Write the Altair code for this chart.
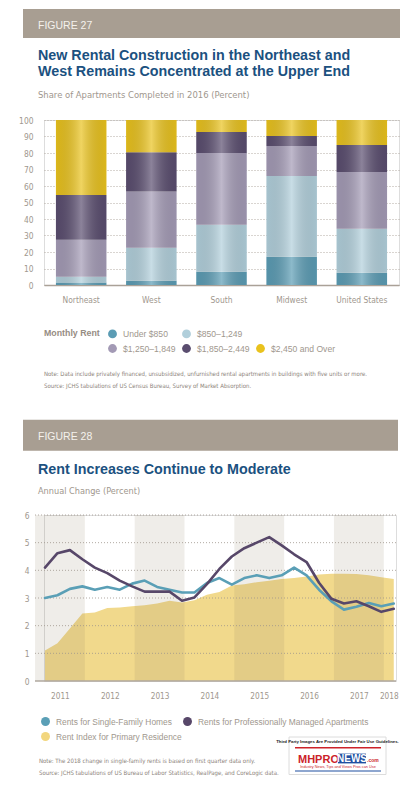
import altair as alt
import pandas as pd

# ---------------- Figure 27 data ----------------
regions = ["Northeast", "West", "South", "Midwest", "United States"]
rent_bands = ["Under $850", "$850–1,249", "$1,250–1,849", "$1,850–2,449", "$2,450 and Over"]
under_850 = [1.5, 2.6, 8.1, 17.1, 7.5]
r850_1249 = [3.5, 20.0, 28.4, 49.0, 26.6]
r1250_1849 = [22.5, 34.1, 43.5, 18.2, 34.4]
r1850_2449 = [27.0, 23.7, 12.7, 6.0, 16.4]
r2450_over = [45.5, 19.6, 7.3, 9.7, 15.1]
band_colors = ["#5b9cb4", "#b1cfdb", "#a39ab5", "#5a4d6f", "#e9c21d"]
pct_ticks = list(range(0, 101, 10))

# ---------------- Figure 28 data ----------------
quarters = [f"{y}Q{q}" for y in range(2011, 2018) for q in range(1, 5)] + ["2018Q1"]
sf_homes = [3.0, 3.1, 3.33, 3.42, 3.3, 3.4, 3.3, 3.52, 3.63, 3.4, 3.3, 3.2, 3.2, 3.54,
            3.72, 3.48, 3.72, 3.82, 3.72, 3.82, 4.1, 3.82, 3.3, 2.88, 2.58, 2.68, 2.82, 2.7, 2.8]
apartments = [4.1, 4.62, 4.73, 4.4, 4.1, 3.9, 3.63, 3.42, 3.23, 3.23, 3.23, 2.9, 3.02, 3.5,
              4.05, 4.5, 4.8, 5.0, 5.2, 4.9, 4.58, 4.3, 3.55, 2.97, 2.8, 2.88, 2.7, 2.5, 2.61]
cpi_rent = [1.1, 1.36, 1.9, 2.44, 2.48, 2.64, 2.66, 2.7, 2.74, 2.8, 2.9, 2.84, 2.92, 3.12,
            3.22, 3.45, 3.5, 3.57, 3.62, 3.69, 3.72, 3.78, 3.85, 3.88, 3.88, 3.87, 3.82, 3.75, 3.69]
series_names = ["Rents for Single-Family Homes", "Rents for Professionally Managed Apartments",
                "Rent Index for Primary Residence"]
series_colors = ["#5a9fb6", "#574769", "#f2d67e"]
year_labels = [2011, 2012, 2013, 2014, 2015, 2016, 2017, 2018]
shaded_years = [2011, 2013, 2015, 2017]
change_ticks = [0, 1, 2, 3, 4, 5, 6]

# ---------------- styling ----------------
NARROW = "DejaVu Sans Condensed, DejaVu Sans, sans-serif"
LEG = "Liberation Sans, Arial, sans-serif"
BOLD = "Liberation Sans, Arial, sans-serif"
TAUPE = "#a89e92"
BLUE = "#1b5180"
GRAY_TXT = "#a0978e"
NOTE_TXT = "#8c837a"
AREA = "#f1d98c"


def text_layer(s, x, y, size, color, font, weight="normal", align="left", baseline="alphabetic"):
    return alt.Chart(pd.DataFrame({"label": [s]})).mark_text(
        align=align, baseline=baseline, font=font, fontSize=size, fontWeight=weight, color=color
    ).encode(x=alt.value(x), y=alt.value(y), text="label:N")


def rect_layer(x1, x2, y1, y2, fill, stroke=None, opacity=1.0):
    kw = dict(fill=fill, opacity=opacity)
    if stroke:
        kw.update(stroke=stroke, strokeWidth=1)
    return alt.Chart(pd.DataFrame({"k": [0]})).mark_rect(**kw).encode(
        x=alt.value(x1), x2=alt.value(x2), y=alt.value(y1), y2=alt.value(y2))


# ================= Figure 27 =================
W1, H1 = 355, 165
rows = []
for i, r in enumerate(regions):
    for j, vals in enumerate([under_850, r850_1249, r1250_1849, r1850_2449, r2450_over]):
        rows.append({"region": r, "band": rent_bands[j], "value": vals[i], "order": j})
bars_df = pd.DataFrame(rows)

legend_domain = rent_bands[:2] + [" "] + rent_bands[2:]
legend_range = band_colors[:2] + ["rgba(0,0,0,0)"] + band_colors[2:]

x_axis1 = alt.Axis(title=None, labelAngle=0, labelFont=NARROW, labelFontSize=8.4,
                   labelColor=GRAY_TXT, labelPadding=10, ticks=False, grid=False,
                   domainColor="#aaa197", domainWidth=1.5)
y_axis1 = alt.Axis(title=None, values=pct_ticks, labelFont=NARROW, labelFontSize=8.4,
                   labelColor=GRAY_TXT, labelPadding=11, ticks=False, domain=False,
                   grid=True, gridColor="#b3aba2", gridDash=[1, 2], gridWidth=1)
x_scale1 = alt.Scale(paddingInner=0.28, paddingOuter=0.17)
y_scale1 = alt.Scale(domain=[0, 100], nice=False)

bars = alt.Chart(bars_df).mark_bar().encode(
    x=alt.X("region:N", sort=regions, scale=x_scale1, axis=x_axis1),
    y=alt.Y("value:Q", stack="zero", scale=y_scale1, axis=y_axis1),
    color=alt.Color("band:N", scale=alt.Scale(domain=legend_domain, range=legend_range),
                    legend=alt.Legend(orient="none", legendX=0, legendY=209, columns=3,
                                      direction="horizontal",
                                      title="Monthly Rent", titleOrient="left",
                                      titleAnchor="start", titleBaseline="top",
                                      titleFont=LEG, titleFontSize=8.8, titleFontWeight="bold",
                                      titleColor="#968c83", titlePadding=8,
                                      symbolType="circle", symbolSize=78, symbolStrokeWidth=0,
                                      labelFont=LEG, labelFontSize=8.6, labelColor=GRAY_TXT,
                                      labelOffset=6, columnPadding=6, rowPadding=5,
                                      labelLimit=0, padding=0)),
    order=alt.Order("order:Q"),
)

GRAD = {"gradient": "linear", "x1": 0, "x2": 1, "y1": 0, "y2": 0,
        "stops": [{"offset": 0, "color": "rgba(0,0,0,0.06)"},
                  {"offset": 0.5, "color": "rgba(255,255,255,0.3)"},
                  {"offset": 1, "color": "rgba(0,0,0,0.06)"}]}
highlight = alt.Chart(bars_df).mark_bar(fill=GRAD).encode(
    x=alt.X("region:N", sort=regions, scale=x_scale1, axis=x_axis1),
    y=alt.Y("sum(value):Q", scale=y_scale1, axis=y_axis1),
)

fig27 = alt.layer(
    rect_layer(-35, 356, -111, 291, "white", opacity=0),
    rect_layer(-21, 356, -111, -82, TAUPE),
    text_layer("FIGURE 27", -6, -91.3, 10.5, "#f4f1ec", BOLD),
    text_layer("New Rental Construction in the Northeast and", -6, -59.7, 14.3, BLUE, BOLD, "bold"),
    text_layer("West Remains Concentrated at the Upper End", -6, -44, 14.3, BLUE, BOLD, "bold"),
    text_layer("Share of Apartments Completed in 2016 (Percent)", -6, -22.3, 9.4, GRAY_TXT, NARROW),
    bars,
    highlight,
    text_layer("Note: Data include privately financed, unsubsidized, unfurnished rental apartments in buildings with five units or more.",
               0, 256, 6.0, NOTE_TXT, NARROW),
    text_layer("Source: JCHS tabulations of  US Census Bureau, Survey of Market Absorption.",
               0, 267.5, 6.0, NOTE_TXT, NARROW),
).properties(width=W1, height=H1)

# ================= Figure 28 =================
# plot area shares its left edge with figure 27 (concat aligns plot origins);
# the x domain starts a little after 2011 so that 2011 falls 9px left of that edge.
W2, H2 = 352, 166
GL = -9  # left end of the gridlines / baseline, relative to the plot origin
t_vals = [int(q[:4]) + 0.2 + 0.25 * (int(q[-1]) - 1) for q in quarters]
lines_df = pd.DataFrame({
    "t": t_vals * 2,
    "value": sf_homes + apartments,
    "series": [series_names[0]] * len(t_vals) + [series_names[1]] * len(t_vals),
})
area_df = pd.DataFrame({"t": t_vals, "cpi": cpi_rent})
bands_df = pd.DataFrame({"year": shaded_years})
grid_df = pd.DataFrame({"v": change_ticks[1:]})
base_df = pd.DataFrame({"v": change_ticks[:1]})
tick_pos = [y + 0.5 if y < 2018 else 2018.1 for y in year_labels]

x_scale2 = alt.Scale(domain=[2011.18, 2018.245], nice=False, zero=False)
y_scale2 = alt.Scale(domain=[0, 6], nice=False)
x_axis2 = alt.Axis(title=None, values=tick_pos, labelExpr="floor(datum.value)", labelFont=NARROW,
                   labelFontSize=8.2, labelColor=GRAY_TXT, labelPadding=11, ticks=False, grid=False,
                   domain=False, zindex=1)
y_axis2 = alt.Axis(title=None, values=change_ticks, labelFont=NARROW, labelFontSize=8.4,
                   labelColor=GRAY_TXT, labelPadding=15, ticks=False, domain=False, grid=False,
                   zindex=1)

area = alt.Chart(area_df).mark_area(color=AREA, opacity=1).encode(
    x=alt.X("t:Q", scale=x_scale2, axis=x_axis2),
    y=alt.Y("cpi:Q", scale=y_scale2, axis=y_axis2),
)
bands = alt.Chart(bands_df).transform_calculate(year_end="datum.year + 1").mark_rect(
    color="#8c7c64", opacity=0.14).encode(
    x=alt.X("year:Q", scale=x_scale2, axis=x_axis2),
    x2="year_end:Q",
    y=alt.value(0), y2=alt.value(H2),
)
gridlines = alt.Chart(grid_df).mark_rule(color="#9d958c", strokeDash=[1, 2], strokeWidth=1,
                                         opacity=0.8).encode(
    y=alt.Y("v:Q", scale=y_scale2, axis=y_axis2),
    x=alt.value(GL), x2=alt.value(W2),
)
baseline = alt.Chart(base_df).mark_rule(color="#b0a89f", strokeWidth=1.5).encode(
    y=alt.Y("v:Q", scale=y_scale2, axis=y_axis2),
    x=alt.value(GL), x2=alt.value(W2),
)
lines = alt.Chart(lines_df).mark_line(strokeWidth=2.6, strokeJoin="round", strokeCap="round").encode(
    x=alt.X("t:Q", scale=x_scale2, axis=x_axis2),
    y=alt.Y("value:Q", scale=y_scale2, axis=y_axis2),
    color=alt.Color("series:N", scale=alt.Scale(domain=series_names[:2], range=series_colors[:2]),
                    legend=None),
)
legend28 = alt.Chart(lines_df).transform_filter("false").mark_point(filled=True, opacity=1).encode(
    fill=alt.Fill("series:N", scale=alt.Scale(domain=series_names, range=series_colors),
                  legend=alt.Legend(orient="none", legendX=-3, legendY=202, columns=2, title=None,
                                    direction="horizontal",
                                    symbolType="circle", symbolSize=80, symbolStrokeWidth=0,
                                    symbolOpacity=1, labelFont=LEG, labelFontSize=8.4,
                                    labelColor=GRAY_TXT, labelOffset=6, columnPadding=1,
                                    rowPadding=6, labelLimit=0, padding=0)),
)

fig28 = alt.layer(
    rect_layer(-35, 356, -102.3, 259.7, "white", opacity=0),
    rect_layer(-21, 354, -95.3, -64.3, TAUPE),
    text_layer("FIGURE 28", -6, -74.6, 10.5, "#f4f1ec", BOLD),
    text_layer("Rent Increases Continue to Moderate", -6, -40.6, 14.3, BLUE, BOLD, "bold"),
    text_layer("Annual Change (Percent)", -6, -21.3, 9.1, GRAY_TXT, NARROW),
    area,
    bands,
    gridlines,
    baseline,
    lines,
    legend28,
    text_layer("Note: The 2018 change in single-family rents is based on first quarter data only.",
               -5, 248.2, 6.0, NOTE_TXT, NARROW),
    text_layer("Source: JCHS tabulations of US Bureau of Labor Statistics, RealPage, and CoreLogic data.",
               -5, 259.6, 6.0, NOTE_TXT, NARROW),
    # watermark card
    rect_layer(245, 342, 222, 259.5, "white", stroke="#dcdcdc"),
    text_layer("Third Party Images Are Provided Under Fair Use Guidelines.", 293.5, 228.3, 4.3,
               "#222222", "Liberation Sans, sans-serif", "bold", align="center"),
    rect_layer(251, 337, 232, 233.4, "#cc2229"),
    text_layer("MHPRO", 254, 247.5, 11, "#cc2229", "Liberation Sans, sans-serif", "bold"),
    rect_layer(294, 322, 238.6, 248.4, "#1f4fa0"),
    text_layer("NEWS", 308, 247.2, 10, "white", "Liberation Sans, sans-serif", "bold", align="center"),
    text_layer(".com", 323, 247.2, 5, "#cc2229", "Liberation Sans, sans-serif", "bold"),
    text_layer("Industry News, Tips and Views Pros can Use", 294, 253, 3.8, "#cc2229",
               "Liberation Sans, sans-serif", align="center"),
    rect_layer(251, 337, 255.4, 256.6, "#1f4fa0"),
).properties(width=W2, height=H2)

chart = alt.concat(fig27, fig28, columns=1, spacing=0, align="none").resolve_scale(
    color="independent", fill="independent"
).resolve_legend(
    color="independent", fill="independent"
).properties(
    padding=0
).configure_view(stroke=None).configure(background="white")

chart.save("out.html", embed_options={"renderer": "svg", "actions": False})
